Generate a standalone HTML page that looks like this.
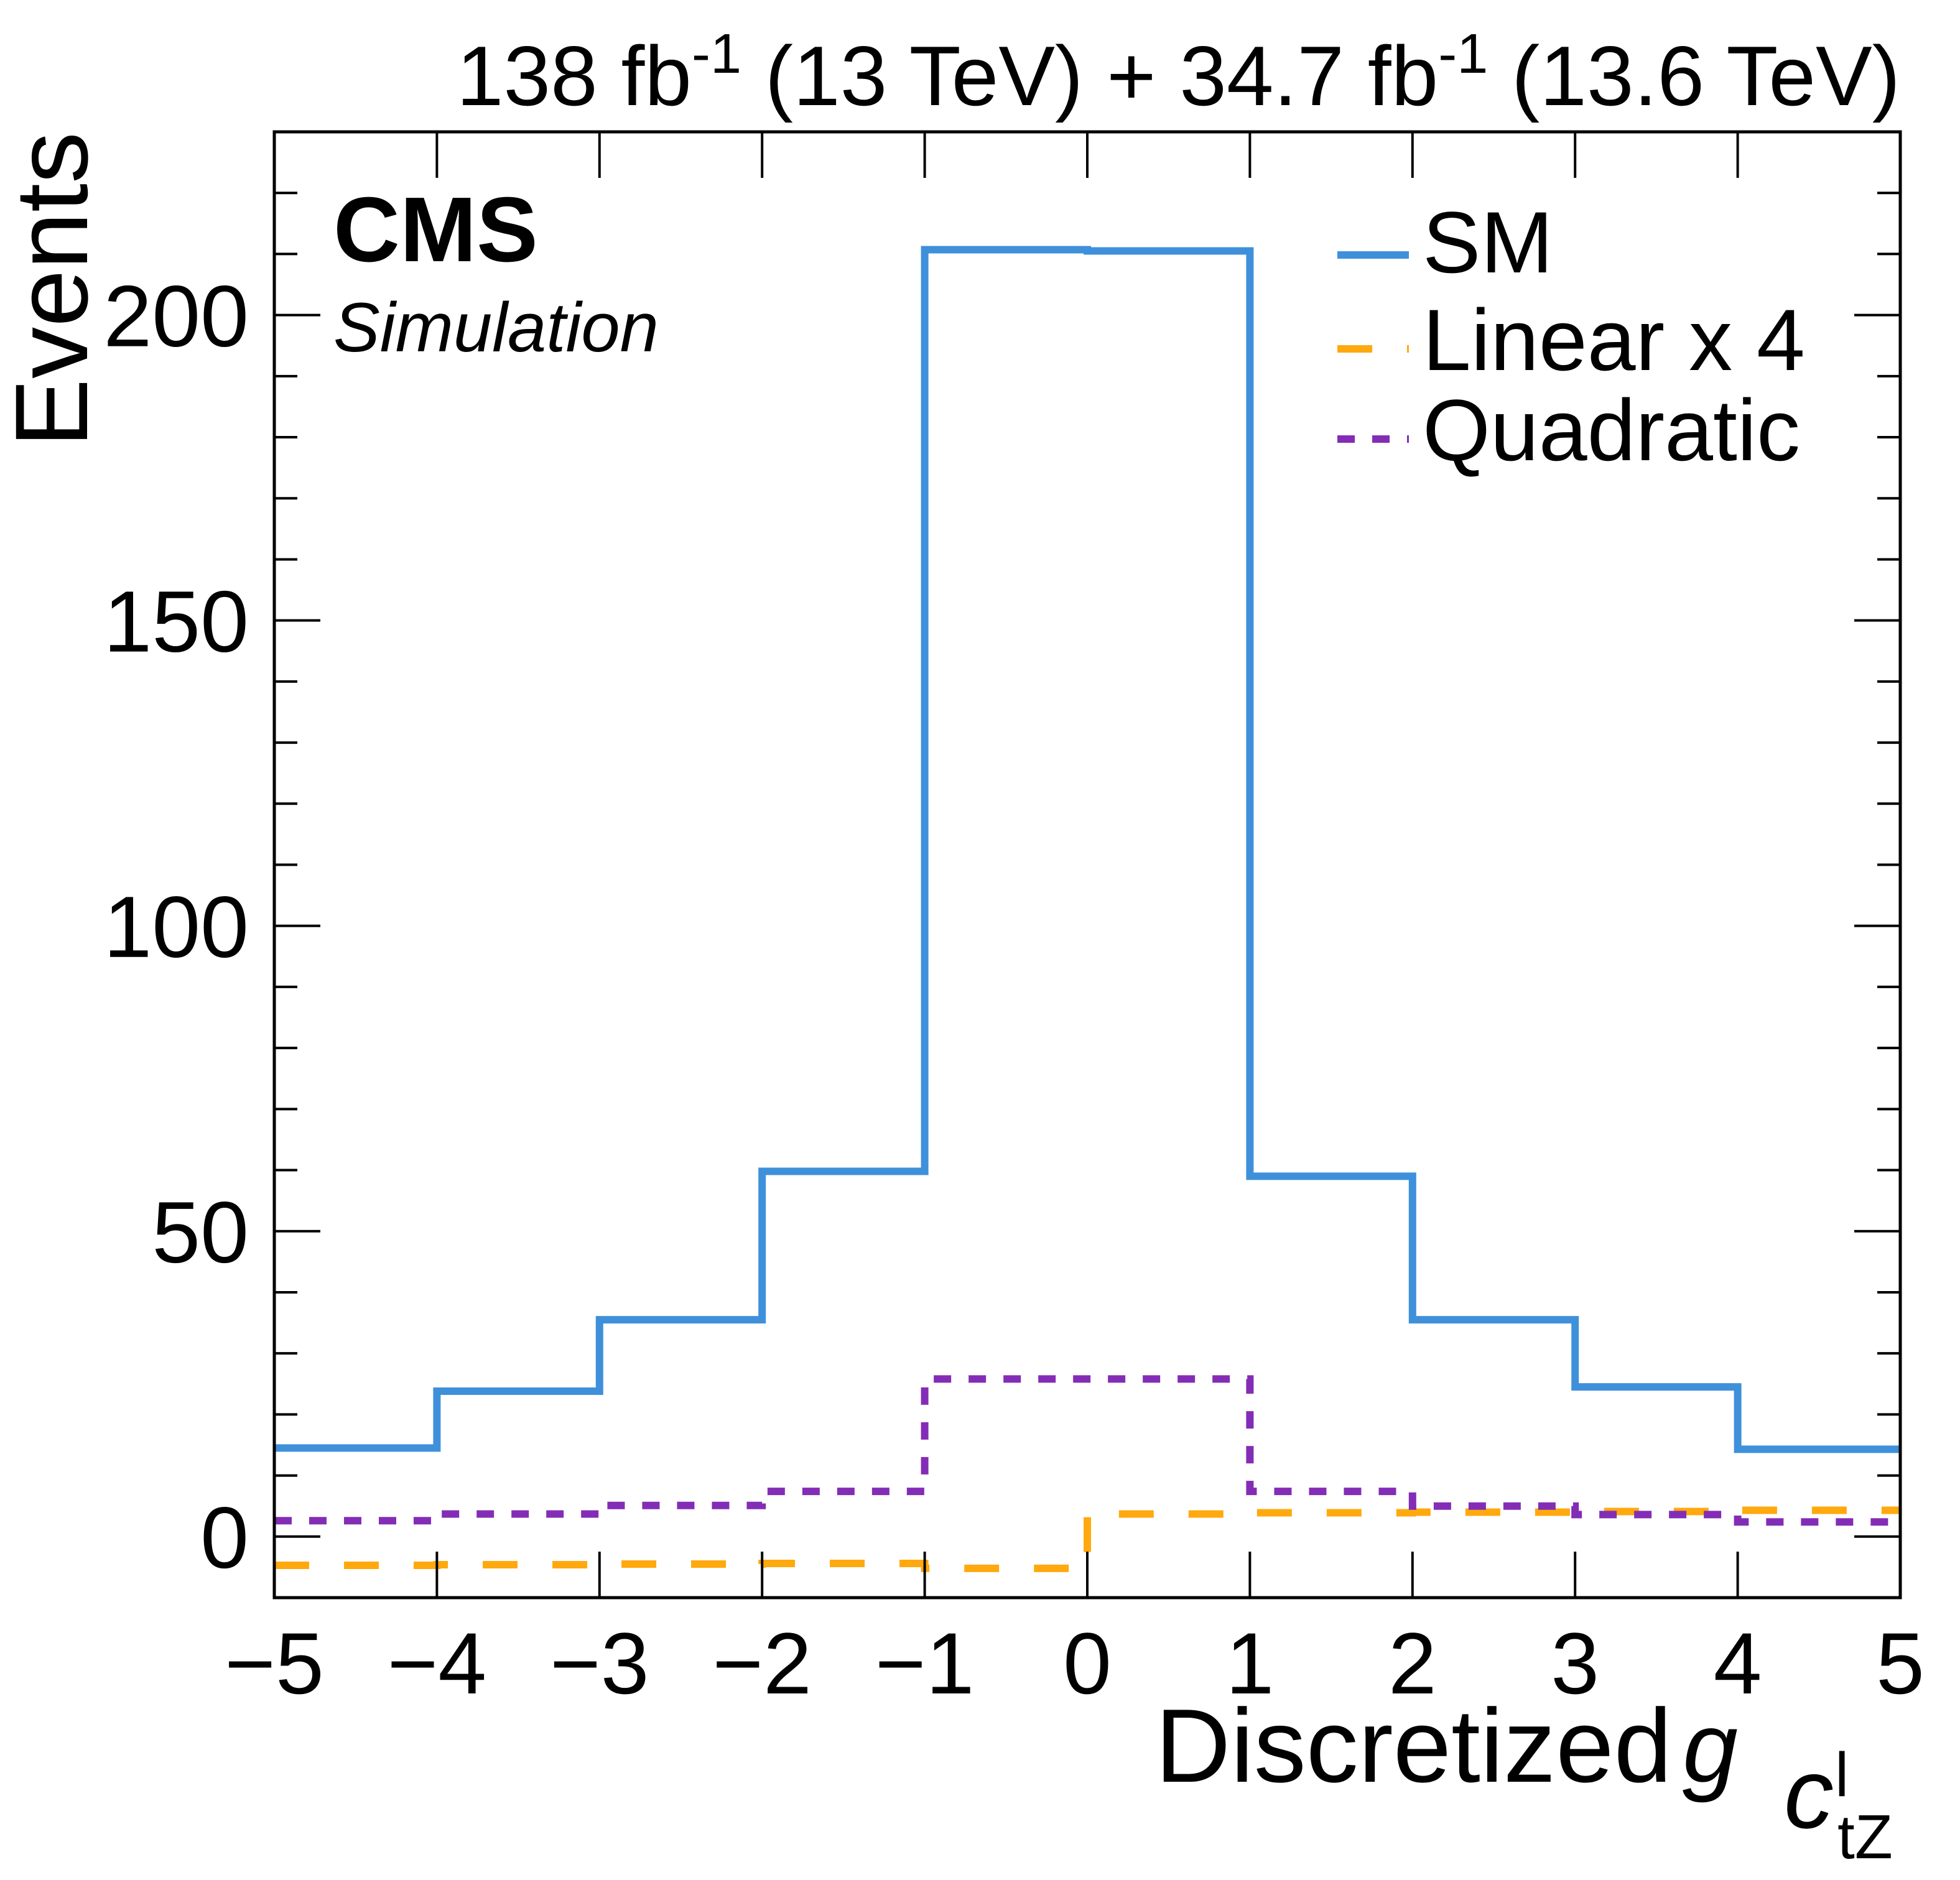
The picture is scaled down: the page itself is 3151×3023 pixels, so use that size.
<!DOCTYPE html>
<html><head><meta charset="utf-8"><style>
html,body{margin:0;padding:0;background:#fff;}
svg{display:block;font-family:"Liberation Sans",Arial,sans-serif;}
</style></head><body>
<svg id="chart" width="3151" height="3023" viewBox="0 0 3151 3023" xmlns="http://www.w3.org/2000/svg">
<rect width="3151" height="3023" fill="#fff"/>
<g id="marks"></g>
<g id="axes"></g>
<text x="3055" y="169" font-size="136" text-anchor="end">138 fb<tspan dy="-52" font-size="90">-1</tspan><tspan dy="52"> (13 TeV) + 34.7 fb</tspan><tspan dy="-52" font-size="90">-1</tspan><tspan dy="52"> (13.6 TeV)</tspan></text>
<text x="536" y="420" font-size="148" font-weight="bold">CMS</text>
<text x="536" y="565" font-size="112" font-style="italic">Simulation</text>
<text transform="translate(140,212) rotate(-90)" font-size="166" text-anchor="end">Events</text>
<g>
<text x="2688" y="2865" font-size="168" text-anchor="end">Discretized</text>
<text x="2705" y="2865" font-size="160" font-style="italic">g</text>
<text x="2868" y="2939" font-size="160" font-style="italic">c</text>
<text x="2950" y="2888" font-size="100">l</text>
<text x="2954" y="2988" font-size="100">tZ</text>
</g>
<g>
<g><line x1="2150" y1="410" x2="2265" y2="410" stroke="#3f90da" stroke-width="12"/><text x="2287" y="438" font-size="140">SM</text></g>
<g><line x1="2150" y1="561" x2="2265" y2="561" stroke="#ffa90e" stroke-width="12" stroke-dasharray="56 56"/><text x="2287" y="595" font-size="140">Linear x 4</text></g>
<g><line x1="2150" y1="706" x2="2265" y2="706" stroke="#832db6" stroke-width="12" stroke-dasharray="28 28"/><text x="2287" y="740" font-size="140">Quadratic</text></g>
</g>
</svg>
<script>
const binEdges = [-5,-4,-3,-2,-1,0,1,2,3,4,5];
const smValues = [14.5,23.8,35.5,59.8,210.7,210.5,59.0,35.5,24.5,14.3];
const linearValues = [-4.7,-4.6,-4.5,-4.4,-5.2,3.7,3.9,4.0,4.1,4.3];
const quadValues = [2.6,3.7,5.1,7.4,25.8,25.8,7.4,5.0,3.6,2.4];
const xTickLabels = ["\u22125","\u22124","\u22123","\u22122","\u22121","0","1","2","3","4","5"];
const yTickLabels = ["0","50","100","150","200"];

const X0=441, X1=3055, Y0=2569, Y1=212, XMIN=-5, XMAX=5, YMIN=-10, YMAX=230;
function xs(v){return X0+(v-XMIN)/(XMAX-XMIN)*(X1-X0);}
function ys(v){return Y0-(v-YMIN)/(YMAX-YMIN)*(Y0-Y1);}
const NS="http://www.w3.org/2000/svg";
const marks=document.getElementById('marks');
const axes=document.getElementById('axes');
function mk(tag,attrs,parent){const e=document.createElementNS(NS,tag);for(const k in attrs)e.setAttribute(k,attrs[k]);parent.appendChild(e);return e;}

function stepPath(vals){
  let d='M'+xs(binEdges[0])+','+ys(vals[0]);
  for(let i=0;i<vals.length;i++){
    if(i>0) d+=' L'+xs(binEdges[i])+','+ys(vals[i]);
    d+=' L'+xs(binEdges[i+1])+','+ys(vals[i]);
  }
  return d;
}
const series=[[linearValues,'#ffa90e','56 56','linear-x4-histogram'],[quadValues,'#832db6','28 28','quadratic-histogram'],[smValues,'#3f90da','none','sm-histogram']];
series.forEach(s=>{
  const p=mk('path',{d:stepPath(s[0]),fill:'none',stroke:s[1],'stroke-width':12,'stroke-dasharray':s[2],'stroke-linejoin':'miter','stroke-linecap':'butt'},marks);
  
  
});

const fr=mk('rect',{x:X0,y:Y1,width:X1-X0,height:Y0-Y1,fill:'none',stroke:'#000','stroke-width':5},axes);


binEdges.forEach((v,i)=>{
  const x=xs(v);
  mk('line',{x1:x,y1:Y0,x2:x,y2:Y0-74,stroke:'#000','stroke-width':4},axes);
  mk('line',{x1:x,y1:Y1,x2:x,y2:Y1+74,stroke:'#000','stroke-width':4},axes);
  const t=mk('text',{x:x,y:2723,'font-size':140,'text-anchor':'middle'},axes);
  t.textContent=xTickLabels[i];
  
  
});
for(let v=-10;v<=230;v+=10){
  const y=ys(v); const major=(v%50===0); const L=major?74:37;
  mk('line',{x1:X0,y1:y,x2:X0+L,y2:y,stroke:'#000','stroke-width':4},axes);
  mk('line',{x1:X1,y1:y,x2:X1-L,y2:y,stroke:'#000','stroke-width':4},axes);
}
yTickLabels.forEach(l=>{
  const t=mk('text',{x:400,y:ys(parseFloat(l))+50,'font-size':140,'text-anchor':'end'},axes);
  t.textContent=l;
  
  
});
</script>
</body></html>
